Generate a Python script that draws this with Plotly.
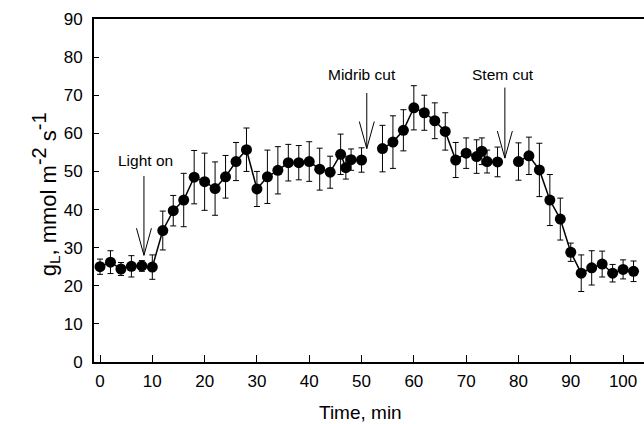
import plotly.graph_objects as go

# time (min), leaf conductance gL (mmol m-2 s-1) and error bar half-widths
time_min = [0, 2, 4, 6, 8, 10, 12, 14, 16, 18, 20, 22, 24, 26, 28, 30, 32, 34, 36, 38,
            40, 42, 44, 46, 47, 48, 50,
            54, 56, 58, 60, 62, 64, 66, 68, 70, 72, 73, 74, 76,
            80, 82, 84, 86, 88, 90, 92, 94, 96, 98, 100, 102]
g_leaf = [25.0, 26.2, 24.4, 25.1, 25.2, 24.9, 34.5, 39.7, 42.5, 48.5, 47.3, 45.5, 48.6,
          52.6, 55.7, 45.4, 48.6, 50.3, 52.3, 52.3, 52.6, 50.6, 49.8, 54.5, 51.0, 53.1, 53.0,
          56.0, 57.7, 60.8, 66.7, 65.4, 63.3, 60.5, 53.0, 54.8, 53.9, 55.3, 52.6, 52.5,
          52.6, 54.1, 50.4, 42.5, 37.5, 28.8, 23.3, 24.7, 25.7, 23.3, 24.3, 23.8]
g_err = [2.0, 3.0, 1.7, 2.8, 1.4, 3.2, 5.1, 4.0, 7.0, 7.0, 7.5, 7.0, 5.6, 5.0, 5.7, 4.6,
         7.0, 6.2, 4.8, 4.5, 5.2, 5.5, 4.2, 5.3, 3.0, 2.8, 3.2,
         6.1, 6.9, 5.4, 5.8, 4.6, 4.7, 4.9, 4.6, 4.0, 4.4, 3.5, 3.0, 3.9,
         4.9, 4.9, 7.0, 6.7, 5.5, 2.4, 4.8, 4.5, 3.4, 2.3, 2.5, 2.7]
# the line is broken after these indices (before the cuts)
segment_ends = [27, 40, len(time_min)]

# events: label, time, arrow tip value, arrow top value
event_labels = ["Light on", "Midrib cut", "Stem cut"]
event_time = [8.4, 51.0, 77.4]
event_tip = [28.0, 56.0, 53.5]
event_top = [48.8, 70.6, 72.0]
label_pos = [(8.6, 53.0), (50.1, 75.4), (77.1, 75.4)]

FONT = "Arial, Liberation Sans, sans-serif"

fig = go.Figure()

start = 0
for end in segment_ends:
    fig.add_trace(go.Scatter(x=time_min[start:end], y=g_leaf[start:end], mode="lines",
                             line=dict(color="black", width=1.5), hoverinfo="skip"))
    start = end

fig.add_trace(go.Scatter(
    x=time_min, y=g_leaf, mode="markers",
    marker=dict(color="black", size=11),
    error_y=dict(type="data", array=g_err, color="black", thickness=1, width=3),
))

# event arrows with open V heads
for lab, t, tip, top, (lx, ly) in zip(event_labels, event_time, event_tip, event_top, label_pos):
    fig.add_shape(type="line", x0=t, y0=top, x1=t, y1=tip, line=dict(color="black", width=1))
    for side in (-1.43, 1.43):
        fig.add_shape(type="line", x0=t + side, y0=tip + 7.1, x1=t, y1=tip,
                      line=dict(color="black", width=1))
    fig.add_annotation(x=lx, y=ly, text=lab, showarrow=False,
                       font=dict(family=FONT, size=15.5, color="black"))

sup = '<sup><span style="font-size:20px">%s</span></sup>'
fig.add_annotation(xref="paper", yref="paper", x=-0.122, y=0.49, textangle=-90,
                   text="g<sub>L</sub>, mmol m" + sup % "-2" + " s" + sup % "-1",
                   showarrow=False,
                   font=dict(family=FONT, size=22, color="black"))
fig.add_annotation(xref="paper", yref="paper", x=0.4845, y=-0.148, yanchor="middle",
                   text="Time, min", showarrow=False,
                   font=dict(family=FONT, size=19, color="black"))

fig.update_xaxes(range=[-1.15, 104], tickvals=list(range(0, 101, 10)),
                 ticks="inside", ticklen=7, tickwidth=1, tickcolor="black",
                 showline=True, linewidth=2, linecolor="black", mirror=True,
                 showgrid=False, zeroline=False, ticklabelstandoff=3,
                 tickfont=dict(family=FONT, size=17, color="black"))
fig.update_yaxes(range=[0, 90], tickvals=list(range(0, 91, 10)),
                 ticks="inside", ticklen=5, tickwidth=1, tickcolor="black",
                 showline=True, linewidth=2, linecolor="black",
                 showgrid=False, zeroline=False, ticklabelstandoff=6,
                 tickfont=dict(family=FONT, size=17, color="black"))
fig.update_layout(width=644, height=424, showlegend=False,
                  plot_bgcolor="white", paper_bgcolor="white",
                  margin=dict(l=94, r=0, t=19, b=62))
fig.write_html("out.html", config={"displayModeBar": False},
               post_script="document.body.style.margin='0';document.body.style.overflow='hidden';")
